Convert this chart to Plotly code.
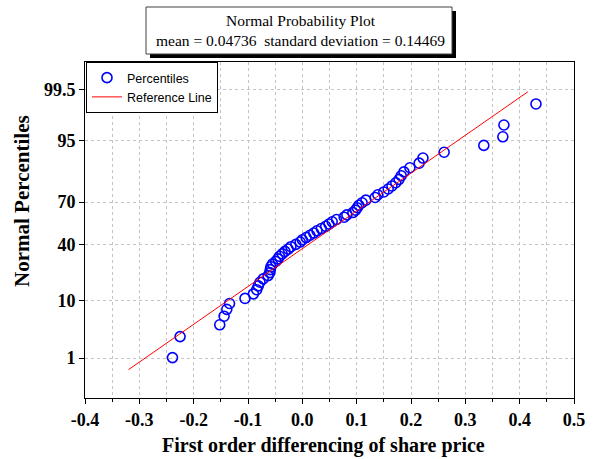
import plotly.graph_objects as go
from statistics import NormalDist

# ---- data ----
share_diff = [
    -0.239, -0.225, -0.152, -0.144, -0.139, -0.134,
    -0.1055, -0.090, -0.084, -0.081, -0.078, -0.072, -0.063,
    -0.060, -0.059, -0.058, -0.055, -0.049, -0.045, -0.042, -0.037, -0.032,
    -0.026, -0.021, -0.012, -0.004, 0.000, 0.007, 0.014, 0.021, 0.027,
    0.035, 0.043, 0.049, 0.055, 0.063, 0.077,
    0.082, 0.093, 0.098, 0.101, 0.104, 0.110, 0.117, 0.134, 0.139,
    0.150, 0.158, 0.165, 0.172, 0.178, 0.182, 0.187,
    0.198, 0.215, 0.222, 0.261, 0.334, 0.369, 0.371, 0.430,
]
mean = 0.04736
std_dev = 0.14469
ref_line_x = [-0.32, 0.415]
y_tick_percent = [1, 10, 40, 70, 95, 99.5]
y_tick_labels = ["1", "10", "40", "70", "95", "99.5"]
x_tick_vals = [-0.4, -0.3, -0.2, -0.1, 0.0, 0.1, 0.2, 0.3, 0.4, 0.5]
x_tick_labels = ["-0.4", "-0.3", "-0.2", "-0.1", "0.0", "0.1", "0.2", "0.3", "0.4", "0.5"]

nd = NormalDist()
n = len(share_diff)
xs = sorted(share_diff)
# Blom plotting positions on a probit scale
pct_z = [nd.inv_cdf((i + 1 - 0.375) / (n + 0.25)) for i in range(n)]
ref_line_z = [(x - mean) / std_dev for x in ref_line_x]
tick_z = [nd.inv_cdf(p / 100.0) for p in y_tick_percent]

W, H = 597, 459
L, R, T, B = 85, 23, 62, 61
pw, ph = W - L - R, H - T - B


def px(x):
    return (x - L) / pw


def py(y):
    return (H - B - y) / ph


serif = "Liberation Serif"
sans = "Liberation Sans"

fig = go.Figure()
fig.add_trace(go.Scatter(
    x=xs, y=pct_z, mode="markers", name="Percentiles",
    marker=dict(symbol="circle-open", size=10, color="#0000ff",
                line=dict(width=1.6, color="#0000ff")),
))
fig.add_trace(go.Scatter(
    x=ref_line_x, y=ref_line_z, mode="lines", name="Reference Line",
    line=dict(color="#ff0000", width=1),
))

grid = dict(gridcolor="#c4c4c4", griddash="3px,3px", gridwidth=1)

fig.update_xaxes(
    range=[-0.4, 0.5], tickvals=x_tick_vals,
    ticktext=["<b>%s</b>" % t for t in x_tick_labels],
    ticks="outside", ticklen=5, tickcolor="black",
    showline=True, linecolor="black", linewidth=1, mirror=True,
    showgrid=True, zeroline=False, **grid,
    minor=dict(dtick=0.05, tick0=0, ticks="outside", ticklen=3, tickcolor="black",
               showgrid=True, **grid),
    tickfont=dict(family=serif, size=18, color="black"),
    automargin=False,
)
fig.update_yaxes(
    range=[-3.057, 3.086], tickvals=tick_z,
    ticktext=["<b>%s</b>" % t for t in y_tick_labels],
    ticks="outside", ticklen=5, tickcolor="black",
    showline=True, linecolor="black", linewidth=1, mirror=True,
    showgrid=True, zeroline=False, **grid,
    tickfont=dict(family=serif, size=18, color="black"),
    automargin=False,
)

shapes = [
    dict(type="rect", xref="paper", yref="paper",
         x0=px(150), x1=px(456), y0=py(58), y1=py(11),
         fillcolor="black", line=dict(width=0), layer="above"),
    dict(type="rect", xref="paper", yref="paper",
         x0=px(146), x1=px(452), y0=py(54), y1=py(7),
         fillcolor="white", line=dict(color="#404040", width=1), layer="above"),
]
annotations = [
    dict(xref="paper", yref="paper", x=px(300), y=py(30.5),
         xanchor="center", yanchor="middle", showarrow=False,
         text="Normal Probability Plot<br>mean = 0.04736  standard deviation = 0.14469",
         font=dict(family=serif, size=15.5, color="black")),
    dict(xref="paper", yref="paper", x=px(323), y=py(445),
         xanchor="center", yanchor="middle", showarrow=False,
         text="<b>First order differencing of share price</b>",
         font=dict(family=serif, size=20, color="black")),
    dict(xref="paper", yref="paper", x=px(22), y=py(201),
         xanchor="center", yanchor="middle", showarrow=False, textangle=-90,
         text="<b>Normal Percentiles</b>",
         font=dict(family=serif, size=21, color="black")),
]

fig.update_layout(
    width=W, height=H,
    margin=dict(l=L, r=R, t=T, b=B, pad=0, autoexpand=False),
    paper_bgcolor="white", plot_bgcolor="white",
    shapes=shapes, annotations=annotations,
    showlegend=True,
    legend=dict(x=px(86), y=py(62), xanchor="left", yanchor="top",
                bgcolor="white", bordercolor="black", borderwidth=1,
                font=dict(family=sans, size=12.5, color="black"),
                itemwidth=30, tracegroupgap=0),
)

fig.write_html(
    "out.html",
    config={"displayModeBar": False},
    post_script="document.body.style.margin='0';document.body.style.padding='0';",
)
